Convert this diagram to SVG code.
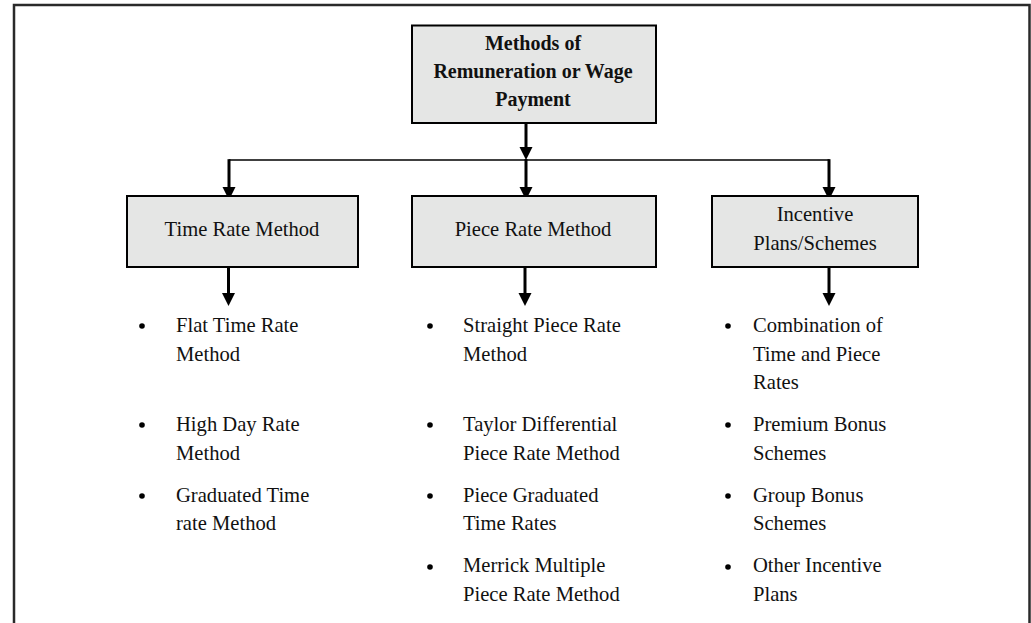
<svg xmlns="http://www.w3.org/2000/svg" width="1031" height="623" viewBox="0 0 1031 623">
  <style>
    .box { fill: #e5e6e5; stroke: #000; stroke-width: 2; }
    .title { font-family: "Liberation Serif", "Times New Roman", serif; font-size: 20px; font-weight: bold; fill: #111; text-anchor: middle; }
    .label { font-family: "Liberation Serif", "Times New Roman", serif; font-size: 20.6px; fill: #111; text-anchor: middle; }
    .item { font-family: "Liberation Serif", "Times New Roman", serif; font-size: 20.6px; fill: #111; }
    .stem { stroke: #000; stroke-width: 3; fill: none; }
    .bar { stroke: #000; stroke-width: 1.6; fill: none; }
    .dot { fill: #000; }
  </style>
  <defs>
    <marker id="arrow" markerUnits="userSpaceOnUse" markerWidth="14" markerHeight="14" refX="0" refY="6.5" orient="auto">
      <path d="M0,0 L13,6.5 L0,13 Z" fill="#000"/>
    </marker>
  </defs>

  <rect width="1031" height="623" fill="#fff"/>

  <!-- page frame -->
  <path d="M14,623 V5 H1029.5 V623" fill="none" stroke="#2a2a2a" stroke-width="2.5"/>

  <!-- connectors -->
  <g id="connectors">
    <line class="bar" x1="229" y1="160" x2="829.5" y2="160"/>
    <line class="stem" x1="526" y1="123" x2="526" y2="147" marker-end="url(#arrow)"/>
    <line class="stem" x1="526" y1="159" x2="526" y2="187" marker-end="url(#arrow)"/>
    <line class="stem" x1="229" y1="159.2" x2="229" y2="187" marker-end="url(#arrow)"/>
    <line class="stem" x1="829" y1="159.2" x2="829" y2="187" marker-end="url(#arrow)"/>
    <line class="stem" x1="228.5" y1="267" x2="228.5" y2="293" marker-end="url(#arrow)"/>
    <line class="stem" x1="525" y1="267" x2="525" y2="293" marker-end="url(#arrow)"/>
    <line class="stem" x1="829" y1="267" x2="829" y2="293" marker-end="url(#arrow)"/>
  </g>

  <!-- root -->
  <g id="node-root">
    <rect class="box" x="412" y="25.5" width="244" height="97.5"/>
    <text class="title" x="533" y="50">Methods of</text>
    <text class="title" x="533" y="78">Remuneration or Wage</text>
    <text class="title" x="533" y="106">Payment</text>
  </g>

  <!-- second level -->
  <g id="node-time">
    <rect class="box" x="127" y="196" width="231" height="71"/>
    <text class="label" x="242" y="236">Time Rate Method</text>
  </g>
  <g id="node-piece">
    <rect class="box" x="412" y="196" width="244" height="71"/>
    <text class="label" x="533" y="236">Piece Rate Method</text>
  </g>
  <g id="node-incentive">
    <rect class="box" x="712" y="196" width="206" height="71"/>
    <text class="label" x="815" y="221">Incentive</text>
    <text class="label" x="815" y="250">Plans/Schemes</text>
  </g>

  <!-- time rate list -->
  <g id="list-time">
    <circle class="dot" cx="142" cy="326" r="2.8"/>
    <text class="item" x="176" y="332">Flat Time Rate</text>
    <text class="item" x="176" y="361">Method</text>
    <circle class="dot" cx="142" cy="425" r="2.8"/>
    <text class="item" x="176" y="431">High Day Rate</text>
    <text class="item" x="176" y="460">Method</text>
    <circle class="dot" cx="142" cy="496" r="2.8"/>
    <text class="item" x="176" y="502">Graduated Time</text>
    <text class="item" x="176" y="530">rate Method</text>
  </g>

  <!-- piece rate list -->
  <g id="list-piece">
    <circle class="dot" cx="430" cy="326" r="2.8"/>
    <text class="item" x="463" y="332">Straight Piece Rate</text>
    <text class="item" x="463" y="361">Method</text>
    <circle class="dot" cx="430" cy="425" r="2.8"/>
    <text class="item" x="463" y="431">Taylor Differential</text>
    <text class="item" x="463" y="460">Piece Rate Method</text>
    <circle class="dot" cx="430" cy="496" r="2.8"/>
    <text class="item" x="463" y="502">Piece Graduated</text>
    <text class="item" x="463" y="530">Time Rates</text>
    <circle class="dot" cx="430" cy="567" r="2.8"/>
    <text class="item" x="463" y="572">Merrick Multiple</text>
    <text class="item" x="463" y="601">Piece Rate Method</text>
  </g>

  <!-- incentive list -->
  <g id="list-incentive">
    <circle class="dot" cx="728" cy="326" r="2.8"/>
    <text class="item" x="753" y="332">Combination of</text>
    <text class="item" x="753" y="361">Time and Piece</text>
    <text class="item" x="753" y="389">Rates</text>
    <circle class="dot" cx="728" cy="425" r="2.8"/>
    <text class="item" x="753" y="431">Premium Bonus</text>
    <text class="item" x="753" y="460">Schemes</text>
    <circle class="dot" cx="728" cy="496" r="2.8"/>
    <text class="item" x="753" y="502">Group Bonus</text>
    <text class="item" x="753" y="530">Schemes</text>
    <circle class="dot" cx="728" cy="567" r="2.8"/>
    <text class="item" x="753" y="572">Other Incentive</text>
    <text class="item" x="753" y="601">Plans</text>
  </g>
</svg>
